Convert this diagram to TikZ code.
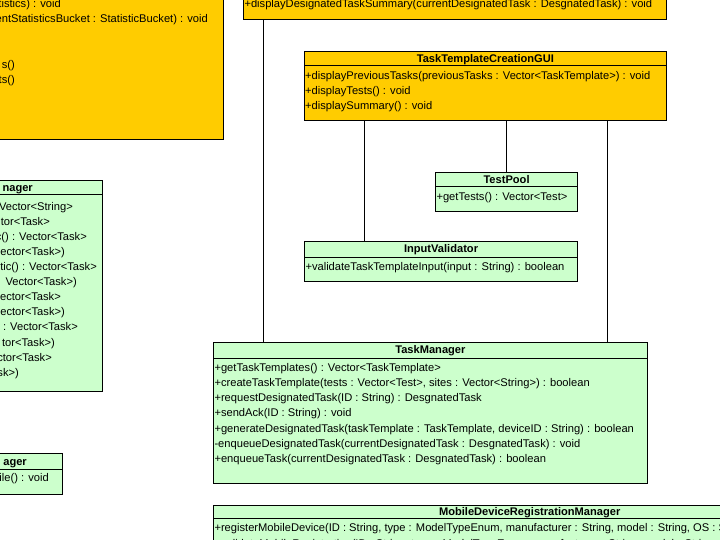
\documentclass[tikz,border=0pt]{standalone}
\usepackage{fontspec}
\setmainfont{Liberation Sans}
\usepackage{xcolor}
\usepackage{tikz}
\usetikzlibrary{positioning}
\definecolor{umlorange}{RGB}{255,204,0}
\definecolor{umlgreen}{RGB}{204,255,204}

\begin{document}
\begin{tikzpicture}[
    x=1pt, y=-1pt,
    classbox/.style={
        rectangle,
        draw=black,
        line width=0.8pt,
        fill=#1,
        anchor=north west,
        inner sep=0pt
    },
    classname/.style={
        font=\fontsize{11.1}{13}\selectfont\bfseries,
        inner sep=0pt
    },
    members/.style={
        font=\fontsize{11.15}{15.2}\selectfont,
        align=left,
        anchor=north west,
        inner xsep=1pt,
        inner ysep=5.8pt
    },
    member/.style={
        font=\fontsize{11.15}{15}\selectfont,
        inner sep=0pt
    },
    link/.style={line width=0.8pt}
]
\useasboundingbox (0,0) rectangle (720,540);
\clip (0,0) rectangle (720,540);

% boxes cut by the frame
\node[classbox=umlorange, minimum width=523pt, minimum height=339pt] (statsgui) at (-300,-200) {};
\node[member, anchor=base east] (statsrow1) at (61,7.5) {tistics) : void};
\node[member, anchor=base east] (statsrow2) at (208,22.5) {entStatisticsBucket : StatisticBucket) : void};
\node[member, anchor=base east] (statsrow3) at (15,68.5) {s()};
\node[member, anchor=base east] (statsrow4) at (15,83.5) {ts()};

\node[classbox=umlorange, minimum width=422.7pt, minimum height=119.3pt] (desgui) at (243.3,-100) {};
\node[member, anchor=base west] (desrow) at (244.3,7.5) {+displayDesignatedTaskSummary(currentDesignatedTask : DesgnatedTask) : void};

\node[classbox=umlgreen, minimum width=402pt, minimum height=211pt] (statsmgr) at (-300,180) {};
\draw ([yshift=-14pt]statsmgr.north west) -- ([yshift=-14pt]statsmgr.north east);
\node[classname, anchor=base east] (statsmgr-title) at (33,192) {nager};
\foreach \xe/\txt [count=\i] in {73/Vector<String>, 50/tor<Task>, 87/{c() : Vector<Task>},
    65/{ector<Task>)}, 97/{tic() : Vector<Task>}, 77/{Vector<Task>)}, 61/ector<Task>,
    65/{ector<Task>)}, 78/{: Vector<Task>}, 55/{tor<Task>)}, 52/ctor<Task>, 19/{sk>)}}
    \node[member, anchor=base east] (lm\i) at (\xe,195.5+15.05*\i) {\txt};

\node[classbox=umlgreen, minimum width=362pt, minimum height=40.5pt] (filemgr) at (-300,453) {};
\draw ([yshift=-16pt]filemgr.north west) -- ([yshift=-16pt]filemgr.north east);
\node[classname, anchor=base east] (filemgr-title) at (27,465.5) {ager};
\node[member, anchor=base east] (filerow) at (49,481.5) {ile() : void};

% TaskTemplateCreationGUI
\node[classbox=umlorange, minimum width=362pt, minimum height=69.3pt] (gui) at (304,50.7) {};
\draw ([yshift=-14.6pt]gui.north west) -- ([yshift=-14.6pt]gui.north east);
\node[classname] (gui-title) at ([yshift=-8.5pt]gui.north) {TaskTemplateCreationGUI};
\node[members] (gui-ops) at ([yshift=-14.6pt]gui.north west)
    {+displayPreviousTasks(previousTasks : Vector<TaskTemplate>) : void\\
     +displayTests() : void\\
     +displaySummary() : void};

% TestPool
\node[classbox=umlgreen, minimum width=141.7pt, minimum height=39.3pt] (testpool) at (435.3,171.7) {};
\draw ([yshift=-14.3pt]testpool.north west) -- ([yshift=-14.3pt]testpool.north east);
\node[classname] (testpool-title) at ([yshift=-8.3pt]testpool.north) {TestPool};
\node[members] (testpool-ops) at ([yshift=-14.3pt]testpool.north west) {+getTests() : Vector<Test>};

% InputValidator
\node[classbox=umlgreen, minimum width=272.7pt, minimum height=40pt] (inputval) at (304.3,241) {};
\draw ([yshift=-15.7pt]inputval.north west) -- ([yshift=-15.7pt]inputval.north east);
\node[classname] (inputval-title) at ([yshift=-9pt]inputval.north) {InputValidator};
\node[members] (inputval-ops) at ([yshift=-15.7pt]inputval.north west) {+validateTaskTemplateInput(input : String) : boolean};

% TaskManager
\node[classbox=umlgreen, minimum width=433.4pt, minimum height=141pt] (taskmgr) at (213.3,342.3) {};
\draw ([yshift=-15.4pt]taskmgr.north west) -- ([yshift=-15.4pt]taskmgr.north east);
\node[classname] (taskmgr-title) at ([yshift=-8.7pt]taskmgr.north) {TaskManager};
\node[members, inner ysep=5.3pt] (taskmgr-ops) at ([yshift=-15.4pt]taskmgr.north west)
    {+getTaskTemplates() : Vector<TaskTemplate>\\
     +createTaskTemplate(tests : Vector<Test>, sites : Vector<String>) : boolean\\
     +requestDesignatedTask(ID : String) : DesgnatedTask\\
     +sendAck(ID : String) : void\\
     +generateDesignatedTask(taskTemplate : TaskTemplate, deviceID : String) : boolean\\
     -enqueueDesignatedTask(currentDesignatedTask : DesgnatedTask) : void\\
     +enqueueTask(currentDesignatedTask : DesgnatedTask) : boolean};

% MobileDeviceRegistrationManager
\node[classbox=umlgreen, minimum width=632pt, minimum height=100pt] (mobilemgr) at (213.3,505) {};
\draw ([yshift=-13.3pt]mobilemgr.north west) -- ([yshift=-13.3pt]mobilemgr.north east);
\node[classname] (mobilemgr-title) at ([yshift=-7.5pt]mobilemgr.north) {MobileDeviceRegistrationManager};
\node[members, inner ysep=5.3pt] (mobilemgr-ops) at ([yshift=-13.3pt]mobilemgr.north west)
    {+registerMobileDevice(ID : String, type : ModelTypeEnum, manufacturer : String, model : String, OS : String) : boolean\\
     +validateMobileRegistration(ID : String, type : ModelTypeEnum, manufacturer : String, model : String, OS : String) : boolean};

% connectors
\draw[link] ([xshift=19.7pt]desgui.south west) -- ([xshift=19.7pt]desgui.south west |- taskmgr.north);
\draw[link] ([xshift=60pt]inputval.north west) -- ([xshift=60pt]inputval.north west |- gui.south);
\draw[link] (testpool.north) -- (testpool.north |- gui.south);
\draw[link] ([xshift=-59pt]gui.south east) -- ([xshift=-59pt]gui.south east |- taskmgr.north);
\end{tikzpicture}
\end{document}
